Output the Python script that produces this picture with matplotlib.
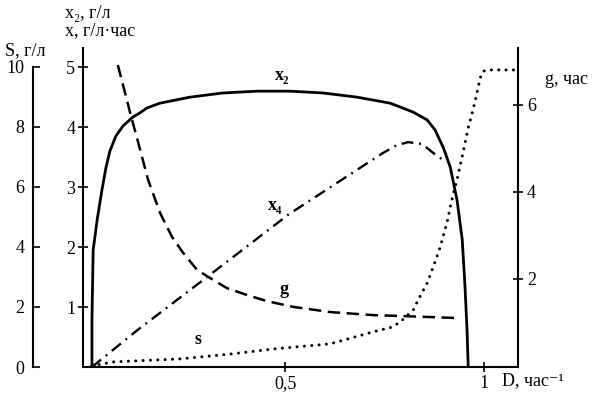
import matplotlib
matplotlib.use("Agg")
import matplotlib.pyplot as plt

plt.rcParams['font.family'] = ['Liberation Serif', 'DejaVu Serif']

# x2 (г/л), solid
D_x2 = [0.015, 0.015, 0.018, 0.028, 0.040, 0.050, 0.060, 0.075, 0.093, 0.118, 0.136, 0.153,
        0.186, 0.261, 0.344, 0.430, 0.513, 0.595, 0.681, 0.764, 0.822, 0.857, 0.877,
        0.898, 0.915, 0.932, 0.945, 0.952, 0.957, 0.960]
x2 = [0.0, 0.78, 1.95, 2.45, 2.95, 3.32, 3.60, 3.85, 4.02, 4.17, 4.24, 4.32,
      4.40, 4.50, 4.57, 4.60, 4.60, 4.57, 4.50, 4.40, 4.25, 4.12, 3.95,
      3.65, 3.33, 2.78, 2.12, 1.33, 0.62, 0.0]

# x (г/л·час), dash-dot
D_x = [0.015, 0.130, 0.300, 0.510, 0.746, 0.781, 0.809, 0.844, 0.872, 0.897]
x4 = [0.0, 0.62, 1.48, 2.55, 3.57, 3.70, 3.75, 3.72, 3.57, 3.45]

# g (час), dashed
D_g = [0.080, 0.111, 0.136, 0.156, 0.186, 0.216, 0.244, 0.279, 0.312, 0.354, 0.405,
       0.455, 0.520, 0.613, 0.721, 0.789, 0.940]
g = [6.92, 5.82, 4.97, 4.28, 3.52, 2.97, 2.60, 2.21, 2.02, 1.79, 1.63,
     1.49, 1.36, 1.24, 1.17, 1.15, 1.10]

# S (г/л), dotted
D_s = [0.015, 0.068, 0.236, 0.362, 0.470, 0.613, 0.721, 0.769, 0.789, 0.822, 0.834,
       0.857, 0.872, 0.889, 0.907, 0.917, 0.932, 0.947, 0.960, 0.972, 0.982, 0.990,
       0.997, 1.008, 1.085]
s = [0.03, 0.17, 0.27, 0.43, 0.60, 0.77, 1.17, 1.33, 1.50, 1.90, 2.23,
     2.80, 3.33, 3.97, 4.83, 5.47, 6.25, 7.15, 7.97, 8.57, 9.13, 9.63,
     9.85, 9.90, 9.90]

W, H = 592, 393
fig = plt.figure(figsize=(W / 100, H / 100), dpi=100)
ax = fig.add_axes([83 / W, 1 - 367 / H, (518 - 83) / W, (367 - 48) / H])
ax_s = ax.twinx()
ax_g = ax.twinx()

lw_ax = 1.5
tick_font = 13

# main axes: x2 / x scale and D
ax.set_xlim(-0.0075, 1.085)
ax.set_ylim(0, 5.32)
ax.spines['top'].set_visible(False)
ax.spines['right'].set_visible(False)
for sp in ['left', 'bottom']:
    ax.spines[sp].set_linewidth(lw_ax)
ax.set_xticks([0.5, 1])
ax.set_xticklabels(['0,5', '1'])
ax.set_yticks([1, 2, 3, 4, 5])
ax.tick_params(direction='inout', length=7, width=1.2, labelsize=tick_font, pad=2)

# S axis
ax_s.set_ylim(0, 10.63)
for sp in ['top', 'right', 'bottom']:
    ax_s.spines[sp].set_visible(False)
ax_s.spines['left'].set_visible(True)
ax_s.spines['left'].set_position(('axes', -50 / 435))
ax_s.spines['left'].set_bounds(0, 10)
ax_s.spines['left'].set_linewidth(lw_ax)
ax_s.yaxis.set_ticks_position('left')
ax_s.yaxis.set_label_position('left')
ax_s.set_yticks([0, 2, 4, 6, 8, 10])
ax_s.tick_params(direction='in', length=5, width=1.2, labelsize=tick_font, pad=6)

# g axis
ax_g.set_ylim(-0.023, 7.31)
for sp in ['top', 'left', 'bottom']:
    ax_g.spines[sp].set_visible(False)
ax_g.spines['right'].set_linewidth(lw_ax)
ax_g.set_yticks([2, 4, 6])
ax_g.tick_params(direction='inout', length=7, width=1.2, labelsize=tick_font, pad=3)

# curves
ax.plot(D_x2, x2, color='black', lw=2.0, solid_joinstyle='round')
ax.plot(D_x, x4, color='black', lw=1.7, linestyle=(0, (5, 2.5, 0.8, 2.5)))
ax_g.plot(D_g, g, color='black', lw=1.8, linestyle=(0, (5, 2.6)))
ax_s.plot(D_s, s, color='black', lw=2.2, linestyle=(0, (0.01, 2.4)),
          dash_capstyle='round')

# curve labels
lab = dict(fontsize=13, fontweight='bold', ha='center', va='center')
fig.text(282 / W, 1 - 75 / H, 'x₂', **lab)
fig.text(275 / W, 1 - 205 / H, 'x₄', **lab)
fig.text(284 / W, 1 - 289 / H, 'g', **lab)
fig.text(198 / W, 1 - 339 / H, 's', **lab)

# axis titles
fig.text(5 / W, 1 - 51 / H, 'S, г/л', fontsize=13, va='center', ha='left')
fig.text(65 / W, 1 - 13 / H, 'x₂, г/л', fontsize=13, va='center', ha='left')
fig.text(65 / W, 1 - 31 / H, 'x, г/л·час', fontsize=13, va='center', ha='left')
fig.text(545 / W, 1 - 79 / H, 'g, час', fontsize=13, va='center', ha='left')
fig.text(502 / W, 1 - 381 / H, 'D, час⁻¹', fontsize=13, va='center', ha='left')

fig.savefig('out.png', dpi=100)
